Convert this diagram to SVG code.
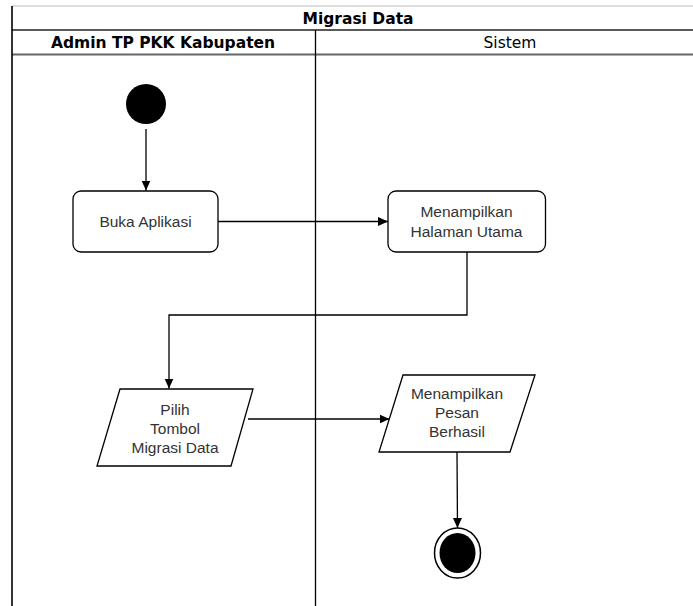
<svg xmlns="http://www.w3.org/2000/svg" width="693" height="606" viewBox="0 0 693 606">
<defs>
<marker id="arr" viewBox="0 0 10 10" refX="10" refY="5" markerWidth="10" markerHeight="10" markerUnits="userSpaceOnUse" orient="auto">
<path d="M0,0.5 L10,5 L0,9.5 Z" fill="#000"/>
</marker>
<style>
.hdr{font-family:"DejaVu Sans",Verdana,sans-serif;font-size:15.5px;fill:#000;text-anchor:middle}
.b{font-weight:bold}
.lbl{font-family:"Liberation Sans",Arial,sans-serif;font-size:15.5px;fill:#333;text-anchor:middle}
.node{fill:#fff;stroke:#000;stroke-width:1.3}
.conn{fill:none;stroke:#000;stroke-width:1.3;marker-end:url(#arr)}
</style>
</defs>
<rect width="693" height="606" fill="#fff"/>
<g id="pool">
<line x1="12" y1="6" x2="693" y2="6" stroke="#bbb" stroke-width="1.2"/>
<line x1="12" y1="30" x2="693" y2="30" stroke="#222" stroke-width="1.5"/>
<line x1="12" y1="54.5" x2="693" y2="54.5" stroke="#666" stroke-width="2"/>
<line x1="12" y1="6" x2="12" y2="606" stroke="#000" stroke-width="1.6"/>
<line x1="315.5" y1="30" x2="315.5" y2="606" stroke="#000" stroke-width="1.3"/>
<text class="hdr b" x="358" y="23.5">Migrasi Data</text>
<text class="hdr b" x="163" y="47.5">Admin TP PKK Kabupaten</text>
<text class="hdr" x="510" y="47.5">Sistem</text>
</g>
<g id="connectors">
<line class="conn" x1="146" y1="129" x2="146" y2="190.5"/>
<line class="conn" x1="218" y1="221.5" x2="388" y2="221.5"/>
<polyline class="conn" points="467,252 467,315 169,315 169,388.5"/>
<line class="conn" x1="248" y1="419" x2="389.5" y2="419"/>
<line class="conn" x1="457" y1="452" x2="457.5" y2="528"/>
</g>
<g id="start">
<circle cx="146" cy="104" r="20" fill="#000"/>
</g>
<g id="buka">
<rect class="node" x="73" y="191" width="145" height="61" rx="8"/>
<text class="lbl" x="145.5" y="227">Buka Aplikasi</text>
</g>
<g id="halaman">
<rect class="node" x="388" y="191" width="157.5" height="61" rx="8"/>
<text class="lbl" x="466.5" y="217">Menampilkan</text>
<text class="lbl" x="466.5" y="237">Halaman Utama</text>
</g>
<g id="pilih">
<polygon class="node" points="120,389 253,389 231,466 97,466"/>
<text class="lbl" x="175" y="415">Pilih</text>
<text class="lbl" x="175" y="434">Tombol</text>
<text class="lbl" x="175" y="453">Migrasi Data</text>
</g>
<g id="pesan">
<polygon class="node" points="403,375 535,375 510,452 379,452"/>
<text class="lbl" x="457" y="399">Menampilkan</text>
<text class="lbl" x="457" y="418">Pesan</text>
<text class="lbl" x="457" y="437">Berhasil</text>
</g>
<g id="end">
<ellipse cx="457.5" cy="553" rx="23" ry="25" fill="#fff" stroke="#000" stroke-width="1.5"/>
<ellipse cx="457.5" cy="553" rx="18" ry="20" fill="#000"/>
</g>
</svg>
